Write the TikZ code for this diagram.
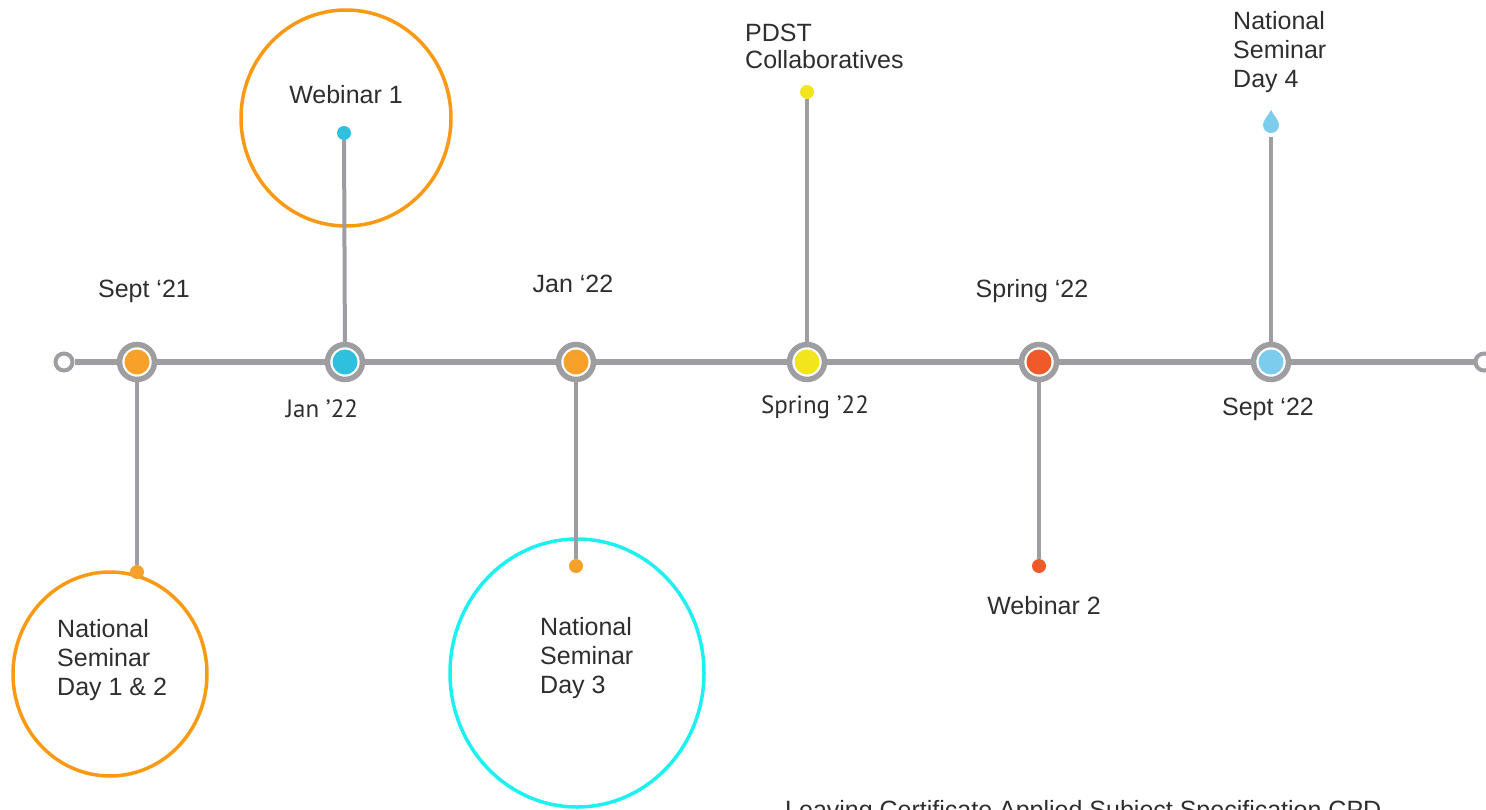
\documentclass[tikz,border=0pt]{standalone}
\usepackage{fontspec}
\setmainfont{Liberation Sans}
\newfontfamily\ptsans{PT Sans}

\definecolor{linegray}{HTML}{9E9EA2}
\definecolor{txtgray}{HTML}{2E2E2E}
\definecolor{dotorange}{HTML}{F7A12B}
\definecolor{dotcyan}{HTML}{2EC0DD}
\definecolor{dotyellow}{HTML}{F2E41D}
\definecolor{dotred}{HTML}{F05A28}
\definecolor{dotblue}{HTML}{7CCDED}
\definecolor{ringorange}{HTML}{FA9A14}
\definecolor{ringcyan}{HTML}{1CF0F0}

\tikzset{
  marker/.style={circle, draw=linegray, line width=5.5pt, fill=white,
    minimum size=35pt, inner sep=0pt,
    path picture={\fill[#1] (path picture bounding box.center) circle (12.5pt);}},
  enddot/.style={circle, fill=#1, minimum size=14pt, inner sep=0pt},
  openend/.style={circle, draw=linegray, line width=4pt, fill=white,
    minimum size=17pt, inner sep=0pt},
  axis/.style={linegray, line width=6pt},
  stem/.style={linegray, line width=4pt},
  ring/.style={line width=3.5pt},
  lbl/.style={font=\fontsize{25}{29}\selectfont, text=txtgray, inner sep=0pt},
}

\begin{document}
\begin{tikzpicture}[x=1pt, y=-1pt]
        \useasboundingbox (0,0) rectangle (1486,809);

        %%%%%%%%% Cerchi %%%%%%%%%
        \draw[ring, ringorange] (346,118) ellipse (105 and 108);
        \draw[ring, ringorange] (110,674) ellipse (97 and 102);
        \draw[ring, ringcyan] (577,673) ellipse (127 and 134);

        %%%%%%%%% Asse %%%%%%%%%%
        \node[openend] (start) at (64,362) {};
        \node[openend] (end) at (1484,362) {};
        \foreach \name/\x/\col in {m1/137/dotorange, m2/345/dotcyan, m3/576/dotorange,
                                   m4/807/dotyellow, m5/1039/dotred, m6/1271/dotblue}
            \node[marker=\col] (\name) at (\x,362) {};
        \draw[axis] (start) -- (m1) -- (m2) -- (m3) -- (m4) -- (m5) -- (m6) -- (end);

        %%%%%%%%% Aste %%%%%%%%%%
        \node[enddot=dotorange] (d1) at (137,572) {};
        \node[enddot=dotcyan] (d2) at (344,133) {};
        \node[enddot=dotorange] (d3) at (576,566) {};
        \node[enddot=dotyellow] (d4) at (807,92) {};
        \node[enddot=dotred] (d5) at (1039,566) {};
        \coordinate (d6) at (1271,137);
        \draw[stem] (m1) -- (d1);
        \draw[stem] (m2) -- (d2);
        \draw[stem] (m3) -- (d3);
        \draw[stem] (m4) -- (d4);
        \draw[stem] (m5) -- (d5);
        \draw[stem] (m6) -- (d6);
        \fill[dotblue] (1271,110) .. controls (1268,116) and (1263,120) .. (1263,125)
            .. controls (1263,130) and (1267,133) .. (1271,133)
            .. controls (1275,133) and (1279,130) .. (1279,125)
            .. controls (1279,120) and (1274,116) .. (1271,110) -- cycle;

        %%%%%%%%% Date %%%%%%%%%%
        \node[lbl, anchor=base] (sept21) at (144,297) {Sept ‘21};
        \node[lbl, anchor=base, font=\ptsans\fontsize{25}{29}\selectfont] (jan22a) at (322,417) {Jan ’22};
        \node[lbl, anchor=base] (jan22b) at (573,292) {Jan ‘22};
        \node[lbl, anchor=base, font=\ptsans\fontsize{25}{29}\selectfont] (spring22a) at (815,413) {Spring ’22};
        \node[lbl, anchor=base] (spring22b) at (1032,297) {Spring ‘22};
        \node[lbl, anchor=base] (sept22) at (1268,415) {Sept ‘22};

        %%%%%%%% Eventi %%%%%%%%%
        \node[lbl, anchor=base] (web1) at (346,103) {Webinar 1};
        \node[lbl, anchor=base] (web2) at (1044,614) {Webinar 2};
        \node[lbl, anchor=north west, align=left] (pdst) at (745,24) {PDST\\[-2pt]Collaboratives};
        \node[lbl, anchor=north west, align=left] (day4) at (1233,11) {National\\Seminar\\Day 4};
        \node[lbl, anchor=north west, align=left] (day12) at (57,619) {National\\Seminar\\Day 1 \& 2};
        \node[lbl, anchor=north west, align=left] (day3) at (540,617) {National\\Seminar\\Day 3};
        \node[lbl, anchor=base west] (cpd) at (785,818) {Leaving Certificate Applied Subject Specification CPD};
    \end{tikzpicture}
\end{document}
